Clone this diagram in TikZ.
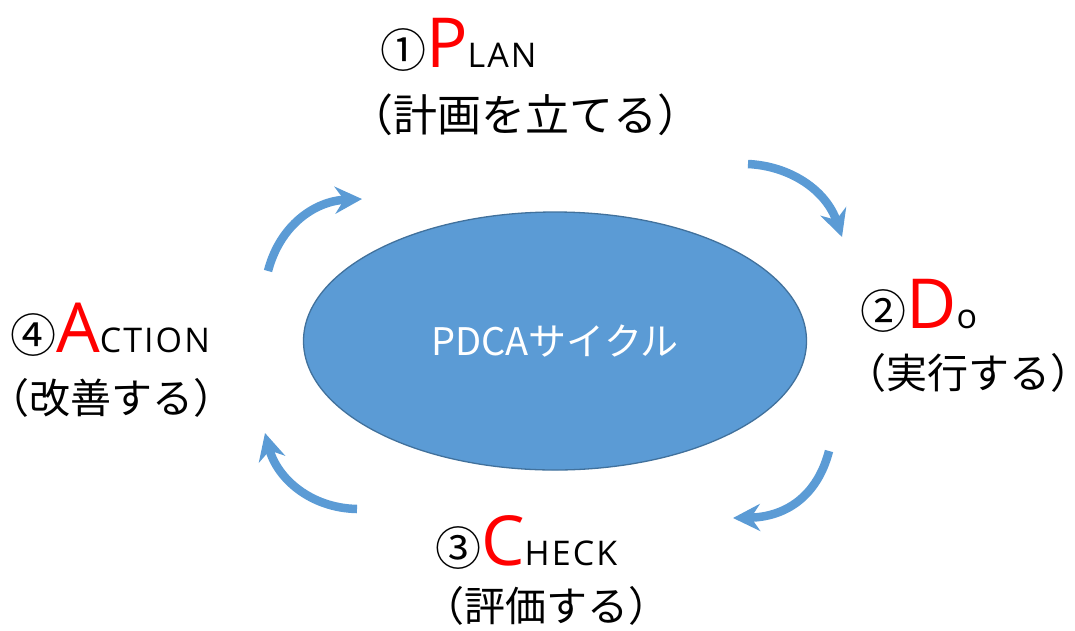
\documentclass[tikz,border=0pt]{standalone}
\usepackage{fontspec}
\setmainfont{Noto Sans CJK JP}
\newfontfamily\latinface[LetterSpace=6]{Open Sans}
\newfontfamily\halfparen[RawFeature=+halt]{Noto Sans CJK JP}
\usetikzlibrary{arrows.meta,shapes.geometric}
\definecolor{ablue}{HTML}{5B9BD5}
\definecolor{edgeblue}{HTML}{41719C}
\definecolor{bigred}{HTML}{FF0000}
\newcommand{\stepname}[3]{{\fontsize{46}{46}\selectfont #1}{\latinface\color{bigred}\fontsize{69}{69}\selectfont #2}{\latinface\fontsize{34}{34}\selectfont #3}}
\newcommand{\paired}[1]{{\halfparen （}#1{\halfparen ）}}
\tikzset{
  cyclearrow/.style={draw=ablue, line width=8.5pt, -{Stealth[length=27pt,width=27pt,inset=9pt]}},
  headline/.style={anchor=base west, inner sep=0pt},
  subline/.style={anchor=west, inner sep=0pt, font=\fontsize{41}{41}\selectfont},
}
\begin{document}
\begin{tikzpicture}[x=1pt,y=-1pt]
\useasboundingbox (0,0) rectangle (1075,630);
\node[ellipse, draw=edgeblue, line width=1.3pt, fill=ablue, minimum width=503pt, minimum height=258pt, text=white, font=\fontsize{38}{38}\selectfont] (core) at (555,341) {PDCAサイクル};

\node[headline] (plan) at (380,67) {\stepname{①}{P}{LAN}};
\node[subline, font=\fontsize{44}{44}\selectfont] (plansub) at (371,115) {\paired{計画を立てる}};

\node[headline] (do) at (860,328) {\stepname{②}{D}{o}};
\node[subline] (dosub) at (866,373) {\paired{実行する}};

\node[headline] (check) at (435,565) {\stepname{③}{C}{HECK}};
\node[subline] (checksub) at (444,606) {\paired{評価する}};

\node[headline] (act) at (10,352) {\stepname{④}{A}{CTION}};
\node[subline] (actsub) at (9,398) {\paired{改善する}};

\coordinate (a1s) at (748,164);
\coordinate (a1e) at (842,237);
\coordinate (a2s) at (268,271);
\coordinate (a2e) at (362,199);
\coordinate (a3s) at (829,451);
\coordinate (a3e) at (733,518);
\coordinate (a4s) at (357,509);
\coordinate (a4e) at (265,433);

\draw[cyclearrow] (a1s) .. controls (790,166) and (826,190) .. (a1e);
\draw[cyclearrow] (a2s) .. controls (280,225) and (315,201) .. (a2e);
\draw[cyclearrow] (a3s) .. controls (817,497) and (785,517) .. (a3e);
\draw[cyclearrow] (a4s) .. controls (310,508) and (277,478) .. (a4e);
\end{tikzpicture}
\end{document}
